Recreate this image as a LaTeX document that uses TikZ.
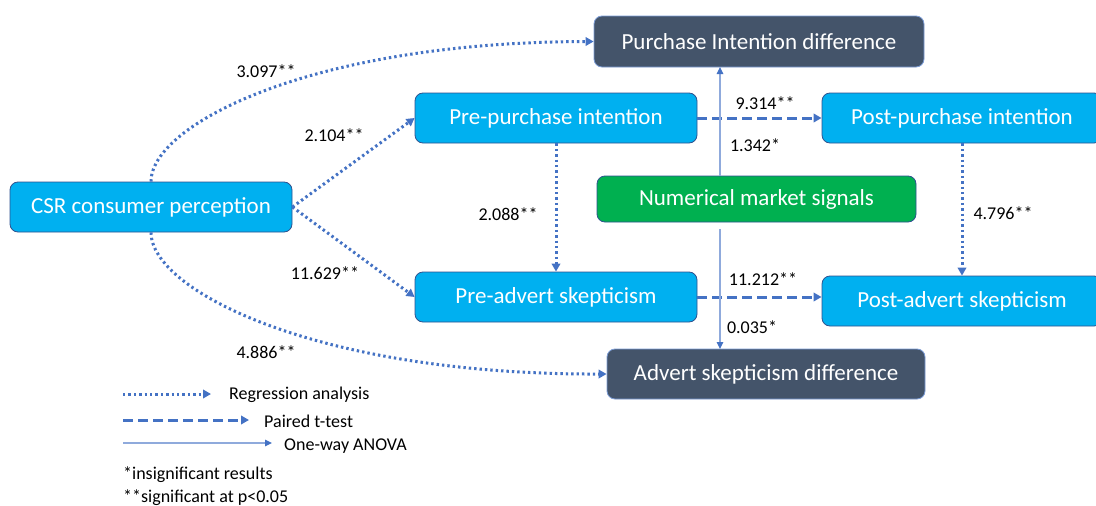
\documentclass[tikz,border=0pt]{standalone}
\usepackage{fontspec}
\setmainfont{Carlito}
\usetikzlibrary{arrows.meta}
\definecolor{cyanbox}{HTML}{00B0F0}
\definecolor{darkbox}{HTML}{44546A}
\definecolor{greenbox}{HTML}{00B050}
\definecolor{boxedge}{HTML}{2F528F}
\definecolor{linkblue}{HTML}{4472C4}
\definecolor{thinblue}{HTML}{8FAADC}
\tikzset{
  box/.style={draw=boxedge, line width=0.8pt, rounded corners=8pt, text=white,
    font=\fontsize{23}{27}\selectfont, minimum height=50pt, inner sep=0pt},
  cbox/.style={box, fill=cyanbox},
  dbox/.style={box, fill=darkbox, draw=linkblue!70},
  gbox/.style={box, fill=greenbox, draw=boxedge, minimum height=46pt},
  lbl/.style={font=\fontsize{18}{21}\selectfont, text=black, inner sep=0pt},
  tip/.style={-{Triangle[length=8pt,width=8.5pt]}},
  regr/.style={tip, draw=linkblue, line width=3pt, dash pattern=on 2.4pt off 3pt},
  paired/.style={tip, draw=linkblue, line width=3pt, dash pattern=on 9.5pt off 5.5pt},
  anova/.style={-{Triangle[length=7pt,width=6.5pt,color=linkblue]}, draw=thinblue, line width=1.2pt},
}
\begin{document}
\begin{tikzpicture}[x=1pt,y=-1pt]
\useasboundingbox[fill=white] (0,0) rectangle (1096,506);
% nodes
\node[cbox, minimum width=282pt] (csr) at (151,207) {CSR consumer perception};
\node[cbox, minimum width=282pt] (prepi) at (556,118) {Pre-purchase intention};
\node[cbox, minimum width=282pt] (preas) at (556,297) {Pre-advert skepticism};
\node[cbox, minimum width=280pt] (postpi) at (962,118) {Post-purchase intention};
\node[cbox, minimum width=280pt] (postas) at (962,301) {Post-advert skepticism};
\node[dbox, minimum width=330pt, minimum height=51pt] (pid) at (759,41.5) {Purchase Intention difference};
\node[dbox, minimum width=318pt] (asd) at (766,374) {Advert skepticism difference};
\node[gbox, minimum width=319pt] (nms) at (756.5,199) {Numerical market signals};
% connector end points for ANOVA
\coordinate (nmsup) at (720,176);
\coordinate (pidlow) at (720,67);
\coordinate (nmsdown) at (720,229);
\coordinate (asdup) at (720,349);
% regression
\draw[regr] (csr.north) .. controls (151,125) and (310,42) .. (pid.west);
\draw[regr] (csr.east) -- (prepi.west);
\draw[regr] (csr.east) -- (preas.west);
\draw[regr] (csr.south) .. controls (151,290) and (315,375) .. (asd.west);
\draw[regr] (prepi.south) -- (preas.north);
\draw[regr] (postpi.south) -- (postas.north);
% paired
\draw[paired] (prepi.east) -- (postpi.west);
\draw[paired] (preas.east) -- (preas.east -| postas.west);
% anova
\draw[anova] (nmsup) -- (pidlow);
\draw[anova] (nmsdown) -- (asdup);
% labels
\node[lbl] (l1) at (266,71) {3.097**};
\node[lbl] (l2) at (334,135) {2.104**};
\node[lbl] (l3) at (325,273) {11.629**};
\node[lbl] (l4) at (266,352) {4.886**};
\node[lbl] (l5) at (508,214) {2.088**};
\node[lbl] (l6) at (1003,213) {4.796**};
\node[lbl] (l7) at (765,103) {9.314**};
\node[lbl] (l8) at (755,145) {1.342*};
\node[lbl] (l9) at (763,279) {11.212**};
\node[lbl] (l10) at (752,327) {0.035*};
% legend
\coordinate (g1a) at (123,394); \coordinate (g1b) at (211,394);
\coordinate (g2a) at (123,420); \coordinate (g2b) at (249,420);
\coordinate (g3a) at (123,443); \coordinate (g3b) at (272,443);
\draw[regr] (g1a) -- (g1b);
\draw[paired] (g2a) -- (g2b);
\draw[anova] (g3a) -- (g3b);
\node[lbl, anchor=west] (t1) at (229,395) {Regression analysis};
\node[lbl, anchor=west] (t2) at (264,421) {Paired t-test};
\node[lbl, anchor=west] (t3) at (284,446) {One-way ANOVA};
\node[lbl, anchor=west] (t4) at (123,475) {*insignificant results};
\node[lbl, anchor=west] (t5) at (123,498) {**significant at p<0.05};
\end{tikzpicture}
\end{document}
